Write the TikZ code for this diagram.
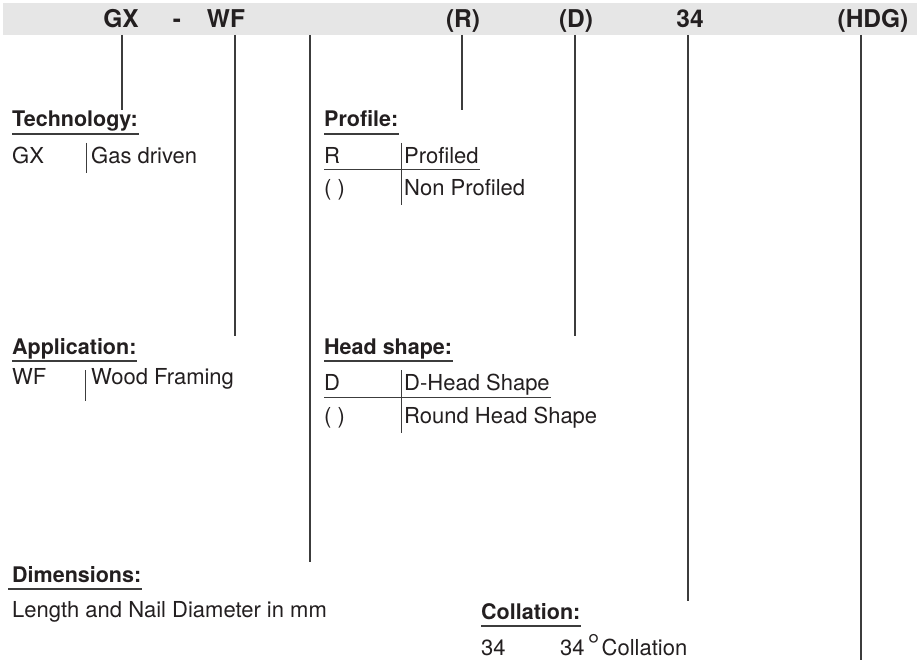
\documentclass[tikz,border=0pt]{standalone}
\usepackage{fontspec}
\setmainfont{TeX Gyre Heros}
\definecolor{ink}{HTML}{231F20}
\definecolor{barfill}{HTML}{E6E6E6}
\definecolor{rulec}{HTML}{3C3C3C}
\begin{document}
\begin{tikzpicture}[x=1pt,y=-1pt,
 txt/.style={anchor=base west, inner sep=0pt, text=ink, font=\fontsize{22}{26}\selectfont},
 head/.style={anchor=base west, inner sep=0pt, text=ink, font=\fontsize{21.5}{26}\selectfont\bfseries},
 code/.style={anchor=base, inner sep=0pt, text=ink, font=\fontsize{24.5}{28}\selectfont\bfseries},
 lead/.style={draw=rulec, line width=1.2pt},
 sepline/.style={draw=rulec, line width=1pt},
 uline/.style={draw=rulec, line width=1.2pt}]
\path[fill=white] (0,0) rectangle (917,660);
\useasboundingbox (0,0) rectangle (917,660);
\fill[barfill] (3,3) rectangle (917,35);

% header codes
\node[code] (cGX) at (121,28) {GX};
\node[code] (cDash) at (177,28) {-};
\node[code] (cWF) at (226,28) {WF};
\node[code] (cR) at (463,28) {(R)};
\node[code] (cD) at (576,28) {(D)};
\node[code] (c34) at (690,28) {34};
\node[code] (cHDG) at (873,28) {(HDG)};

% leader lines
\coordinate (t1) at (122,35); \coordinate (b1) at (122,110);
\coordinate (t2) at (235,35); \coordinate (b2) at (235,336);
\coordinate (t3) at (310,35); \coordinate (b3) at (310,562);
\coordinate (t4) at (462,35); \coordinate (b4) at (462,110);
\coordinate (t5) at (575,35); \coordinate (b5) at (575,336);
\coordinate (t6) at (688,35); \coordinate (b6) at (688,601);
\coordinate (t7) at (861,35); \coordinate (b7) at (861,660);
\foreach \i in {1,...,7} {\draw[lead] (t\i) -- (b\i);}

% headings
\node[head] (hTech) at (12,127) {Technology:};
\node[head] (hProf) at (324,127) {Profile:};
\node[head] (hApp) at (12,354) {Application:};
\node[head] (hHead) at (324,354) {Head shape:};
\node[head] (hDim) at (12,582) {Dimensions:};
\node[head] (hCol) at (481,619) {Collation:};
\foreach \h/\l/\r in {hTech/0/1, hProf/0/1, hApp/0/0, hHead/0/1, hDim/4/1, hCol/0/0}
  {\draw[uline] ([xshift=-\l pt,yshift=-7pt]\h.base west) -- ([xshift=\r pt,yshift=-7pt]\h.base east);}

% Technology
\node[txt] (tGX) at (12,164) {GX};
\node[txt] (tGas) at (91,164) {Gas driven};
\coordinate (s1a) at (86,143); \coordinate (s1b) at (86,173);
\draw[sepline] (s1a) -- (s1b);

% Profile
\node[txt] (pR) at (324,164) {R};
\node[txt] (pRt) at (404,164) {Profiled};
\node[txt] (pN) at (324,196) {( )};
\node[txt] (pNt) at (404,196) {Non Profiled};
\coordinate (s2a) at (401,143); \coordinate (s2b) at (401,205);
\coordinate (h2a) at (324,170); \coordinate (h2b) at (480,170);
\draw[sepline] (s2a) -- (s2b);
\draw[sepline] (h2a) -- (h2b);

% Application
\node[txt] (aWF) at (12,384) {WF};
\node[txt] (aWFt) at (91,384) {Wood Framing};
\coordinate (s3a) at (85,370); \coordinate (s3b) at (85,401);
\draw[sepline] (s3a) -- (s3b);

% Head shape
\node[txt] (dD) at (324,390) {D};
\node[txt] (dDt) at (404,390) {D-Head Shape};
\node[txt] (dN) at (324,423) {( )};
\node[txt] (dNt) at (404,423) {Round Head Shape};
\coordinate (s4a) at (401,370); \coordinate (s4b) at (401,433);
\coordinate (h4a) at (324,397); \coordinate (h4b) at (551,397);
\draw[sepline] (s4a) -- (s4b);
\draw[sepline] (h4a) -- (h4b);

% Dimensions
\node[txt] (mText) at (12,617) {Length and Nail Diameter in mm};

% Collation
\node[txt] (k34) at (481,655) {34};
\node[txt] (k34t) at (560,655) {34\hspace{3pt}{\fontsize{30}{30}\selectfont °}\hspace{2pt}Collation};
\end{tikzpicture}
\end{document}
